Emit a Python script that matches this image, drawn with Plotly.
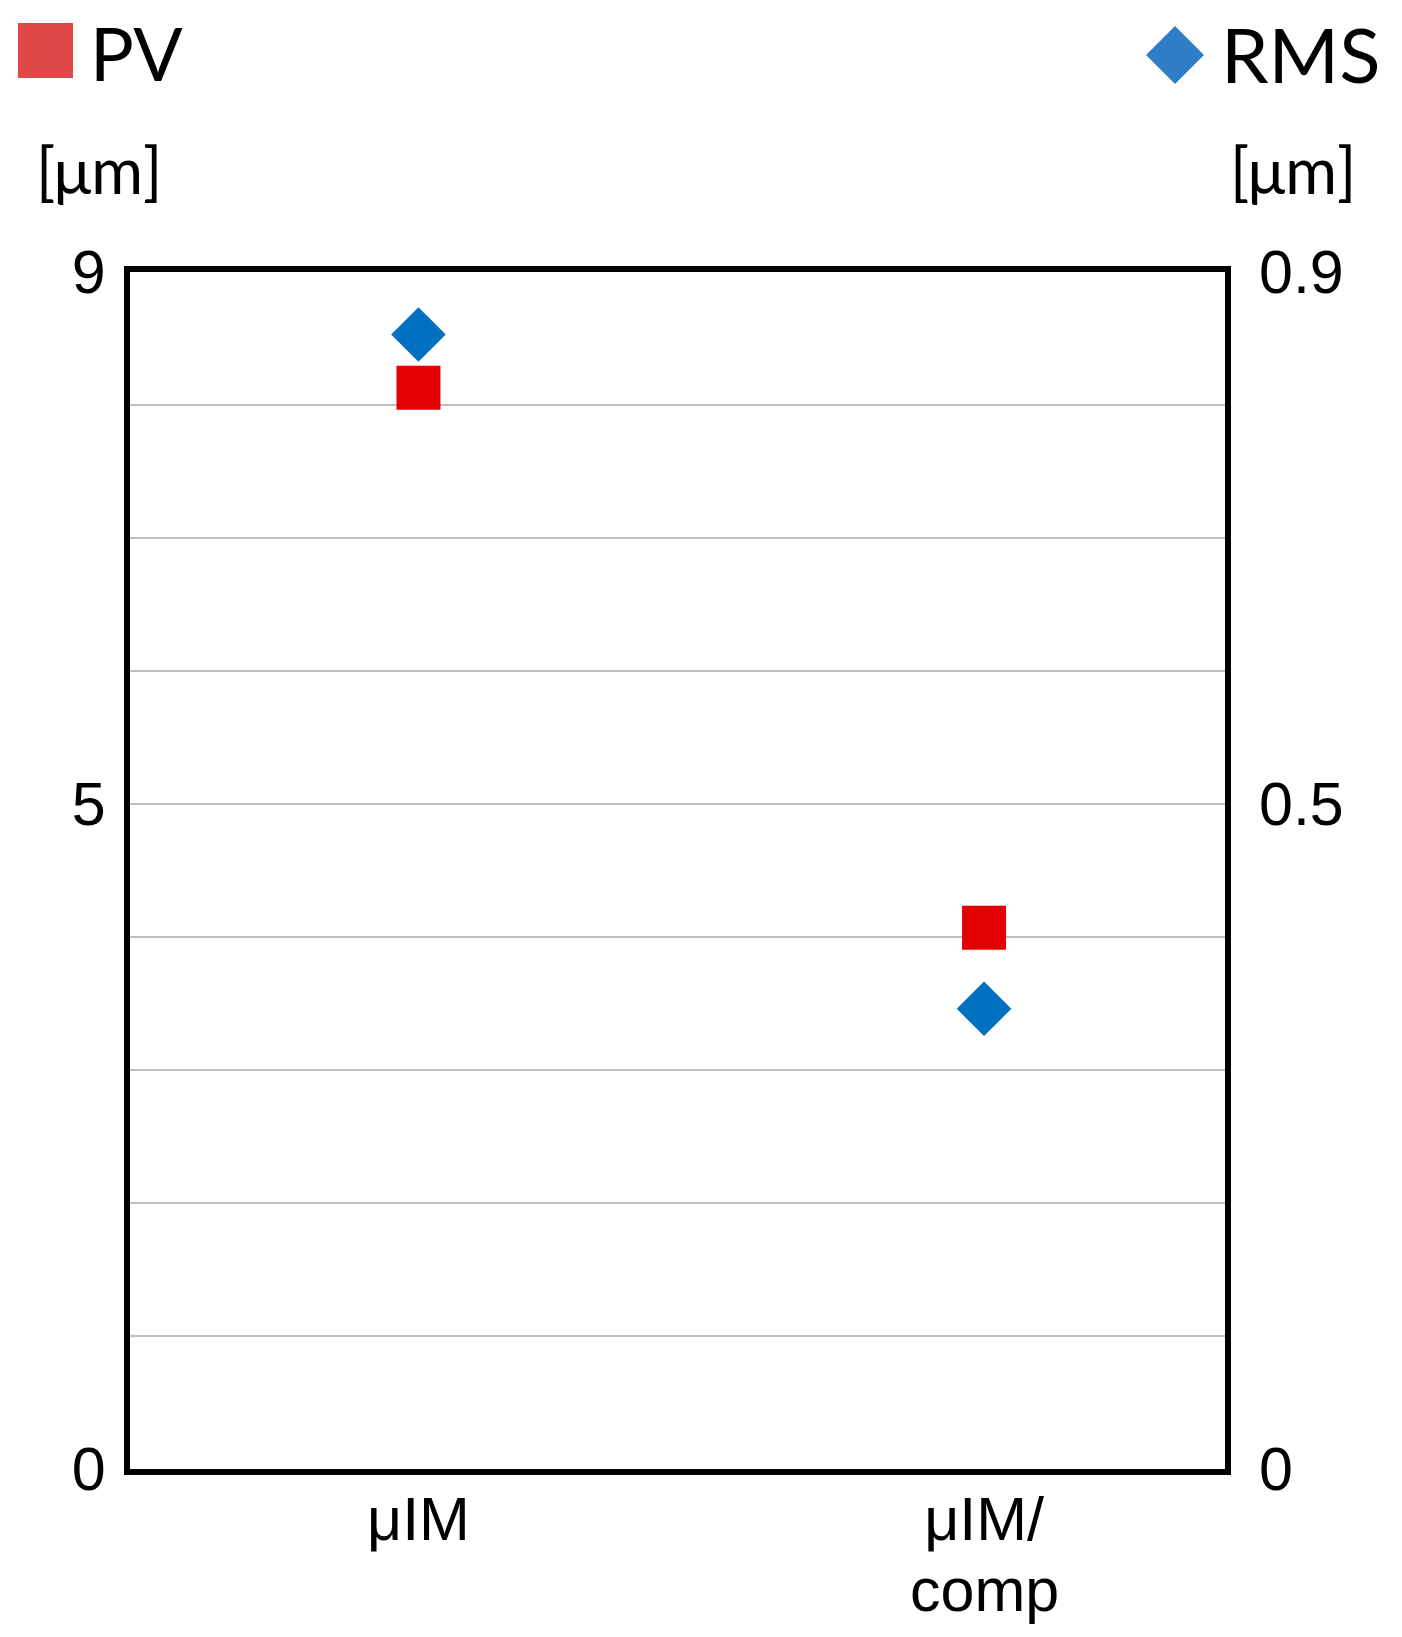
import plotly.graph_objects as go

categories = ["μIM", "μIM/\ncomp"]
pv_values = [8.13, 4.07]
rms_values = [0.853, 0.346]
left_ticks = [0, 1, 2, 3, 4, 5, 6, 7, 8, 9]
left_labels = ["0", "", "", "", "", "5", "", "", "", "9"]
right_ticks = [0, 0.5, 0.9]
right_labels = ["0", "0.5", "0.9"]

# page body has an 8px margin, so the figure is drawn 8px smaller and
# every position below is given in reference pixels, then shifted by 8
OFF = 8
W, H = 1402 - OFF, 1637 - OFF
L, R, T, B = 130, 1225, 272, 1469   # plot area in reference pixels
red = "#E30000"
blue = "#0070C0"
tick_font = dict(family="Liberation Sans, Arial", size=61, color="black")
text_font = "Lato, Open Sans"


def px(x):
    return (x - L) / (R - L)


def py(y):
    return (B - y) / (B - T)


x_pos = list(range(len(categories)))
# first line of each category goes on the axis, the second line is set
# tighter underneath as an annotation (plotly's <br> spacing is too loose)
first_lines = [c.split("\n")[0] for c in categories]
second_lines = [c.split("\n")[1] if "\n" in c else "" for c in categories]

fig = go.Figure()
fig.add_trace(go.Scatter(
    x=x_pos, y=pv_values, mode="markers", name="PV",
    marker=dict(symbol="square", size=44, color=red),
))
fig.add_trace(go.Scatter(
    x=x_pos, y=rms_values, mode="markers", name="RMS", yaxis="y2",
    marker=dict(symbol="diamond", size=42, color=blue),
))

# legend drawn by hand (big symbols)
shapes = [
    dict(type="rect", xref="paper", yref="paper",
         x0=px(18), x1=px(73), y0=py(78), y1=py(23),
         fillcolor="#E04848", line=dict(width=0)),
    dict(type="path", xref="paper", yref="paper",
         path="M {} {} L {} {} L {} {} L {} {} Z".format(
             px(1146), py(55), px(1175), py(26), px(1204), py(55), px(1175), py(84)),
         fillcolor="#2F7DC4", line=dict(width=0)),
]

annotations = [
    dict(text="PV", x=px(88), y=py(53), xref="paper", yref="paper",
         xanchor="left", yanchor="middle", showarrow=False,
         font=dict(family=text_font, size=73, color="black")),
    dict(text="RMS", x=px(1219), y=py(53), xref="paper", yref="paper",
         xanchor="left", yanchor="middle", showarrow=False,
         font=dict(family=text_font, size=76, color="black")),
    dict(text="[μm]", x=px(99), y=py(169), xref="paper", yref="paper",
         xanchor="center", yanchor="middle", showarrow=False,
         font=dict(family=text_font, size=63, color="black")),
    dict(text="[μm]", x=px(1293), y=py(169), xref="paper", yref="paper",
         xanchor="center", yanchor="middle", showarrow=False,
         font=dict(family=text_font, size=63, color="black")),
]
for xp, txt in zip(x_pos, second_lines):
    if txt:
        annotations.append(dict(
            text=txt, x=xp, y=py(1590), xref="x", yref="paper",
            xanchor="center", yanchor="middle", showarrow=False,
            font=tick_font,
        ))

fig.update_layout(
    width=W, height=H,
    margin=dict(l=L - OFF, r=W - (R - OFF), t=T - OFF, b=H - (B - OFF), autoexpand=False),
    plot_bgcolor="white", paper_bgcolor="white",
    showlegend=False,
    shapes=shapes,
    annotations=annotations,
    xaxis=dict(
        range=[-0.51, 1.426], tickvals=x_pos, ticktext=first_lines,
        tickfont=tick_font, showgrid=False, zeroline=False,
        showline=True, linewidth=6, linecolor="black", mirror=True,
        ticks="", ticklen=0, ticklabelstandoff=-8, automargin=False,
    ),
    yaxis=dict(
        range=[0, 9], tickvals=left_ticks, ticktext=left_labels,
        tickfont=tick_font, showgrid=True, gridcolor="#BEBEBE", gridwidth=2,
        zeroline=False, showline=True, linewidth=6, linecolor="black",
        mirror=True, ticks="", ticklen=0, ticklabelstandoff=6, automargin=False,
    ),
    yaxis2=dict(
        range=[0, 0.9], tickvals=right_ticks, ticktext=right_labels,
        tickfont=tick_font, overlaying="y", side="right", showgrid=False,
        zeroline=False, showline=False, ticks="", ticklen=0,
        ticklabelstandoff=33, automargin=False,
    ),
)

fig.write_html("out.html")
